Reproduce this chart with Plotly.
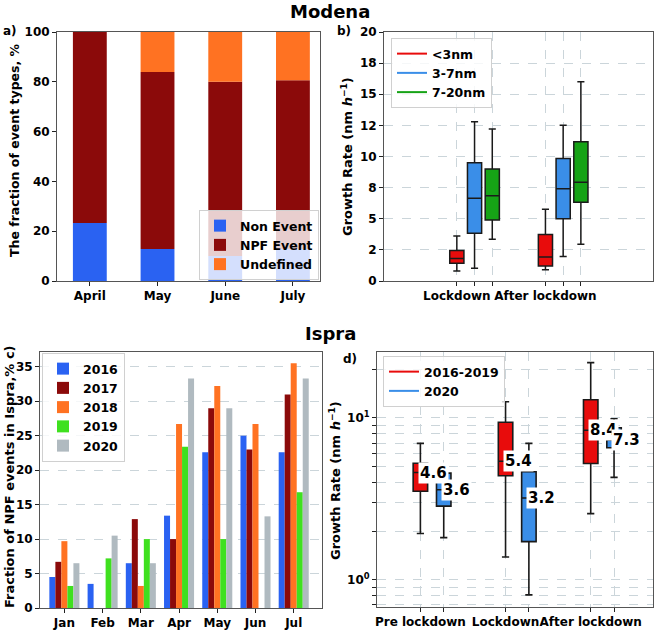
import numpy as np
import plotly.graph_objects as go

W, H = 661, 630

# ---------------- data ----------------
# Panel a (Modena, event type fractions, %)
months_a = ["April", "May", "June", "July"]
non_event = [23.3, 12.9, 10.0, 12.9]
npf_event = [76.7, 71.0, 70.0, 67.7]
undefined = [0.0, 16.1, 20.0, 19.4]

# Panel b (Modena growth rates, box stats per size class)
b_groups = ["Lockdown", "After lockdown"]
b_series = ["<3nm", "3-7nm", "7-20nm"]
b_lower = [[0.80, 0.91], [1.02, 1.96], [3.35, 2.95]]
b_q1 = [[1.42, 1.20], [3.83, 4.99], [4.90, 6.33]]
b_median = [[1.80, 1.93], [6.65, 7.40], [6.84, 7.94]]
b_q3 = [[2.44, 3.73], [9.49, 9.84], [9.00, 11.18]]
b_upper = [[3.62, 5.76], [12.79, 12.52], [12.20, 16.00]]
b_yticks = [0, 2.5, 5, 7.5, 10, 12.5, 15, 17.5, 20]
b_yticktext = ["0", "2", "5", "8", "10", "12", "15", "18", "20"]

# Panel c (Ispra, fraction of NPF events, %)
months_c = ["Jan", "Feb", "Mar", "Apr", "May", "Jun", "Jul"]
years_c = ["2016", "2017", "2018", "2019", "2020"]
frac_2016 = [4.5, 3.5, 6.5, 13.4, 22.6, 25.0, 22.6]
frac_2017 = [6.7, 0.0, 12.9, 10.0, 29.0, 23.0, 31.0]
frac_2018 = [9.7, 0.0, 3.2, 26.7, 32.2, 26.7, 35.5]
frac_2019 = [3.2, 7.2, 10.0, 23.4, 10.0, 0.0, 16.8]
frac_2020 = [6.5, 10.5, 6.5, 33.3, 29.0, 13.3, 33.3]

# Panel d (Ispra growth rates)
d_groups = ["Pre lockdown", "Lockdown", "After lockdown"]
d_series = ["2016-2019", "2020"]
d_lower = [[1.93, 1.38, 2.56], [1.82, 0.805, 4.29]]
d_q1 = [[3.52, 4.39, 5.23], [2.85, 1.72, 6.55]]
d_median = [[4.6, 5.4, 8.4], [3.6, 3.2, 7.3]]
d_q3 = [[5.25, 9.40, 12.95], [4.56, 4.65, 8.70]]
d_upper = [[6.96, 12.6, 22.0], [4.60, 6.96, 9.90]]
d_median_labels = [["4.6", "5.4", "8.4"], ["3.6", "3.2", "7.3"]]
d_major_yticks = [1, 10]
d_major_yticktext = ["10<sup>0</sup>", "10<sup>1</sup>"]
d_minor_yticks = [0.7, 0.8, 0.9, 2, 3, 4, 5, 6, 7, 8, 9, 20]

# ---------------- styles ----------------
FONT = "DejaVu Sans"
c_blue = "#2A62F2"
c_dred = "#8B0A0A"
c_orange = "#FF7222"
c_green_c = "#3FE01F"
c_grey = "#B0BAC0"
gr_colors = ["#E80C0C", "#3A8EE8", "#16A316"]
d_colors = ["#E80C0C", "#3A8EE8"]
EDGE = "#1a1a1a"
GRID = "#CBD5DA"
SPINE = "#555555"


def px_x(x):
    return x / W


def px_y(y):
    return 1 - y / H


fig = go.Figure()

# ---- panel a: stacked bars (manual bases, shared offsetgroup)
base_npf = non_event
base_und = [a + b for a, b in zip(non_event, npf_event)]
for name, vals, base, col in [
    ("Non Event", non_event, None, c_blue),
    ("NPF Event", npf_event, base_npf, c_dred),
    ("Undefined", undefined, base_und, c_orange),
]:
    fig.add_trace(go.Bar(x=months_a, y=vals, base=base, name=name, marker=dict(color=col, line=dict(width=0)),
                         width=0.5, offset=-0.25, offsetgroup="a", xaxis="x", yaxis="y", legend="legend"))

# ---- panel b: boxes
for i, s in enumerate(b_series):
    pos = [g * 5 + i for g in range(len(b_groups))]
    fig.add_trace(go.Box(x=pos, q1=b_q1[i], median=b_median[i], q3=b_q3[i], lowerfence=b_lower[i],
                         upperfence=b_upper[i], width=0.8, whiskerwidth=0.5, fillcolor=gr_colors[i],
                         line=dict(color=EDGE, width=1.5), boxpoints=False, showlegend=False,
                         xaxis="x2", yaxis="y2", hoverinfo="skip"))
    fig.add_trace(go.Scatter(x=[None], y=[None], mode="lines", name=s, line=dict(color=gr_colors[i], width=2),
                             xaxis="x2", yaxis="y2", legend="legend2"))

# ---- panel c: grouped bars
c_cols = [c_blue, c_dred, c_orange, c_green_c, c_grey]
for yr, vals, col in zip(years_c, [frac_2016, frac_2017, frac_2018, frac_2019, frac_2020], c_cols):
    fig.add_trace(go.Bar(x=months_c, y=vals, name=yr, marker=dict(color=col, line=dict(width=0)),
                         xaxis="x3", yaxis="y3", legend="legend3"))

# ---- panel d: boxes on log axis
D_SP = 3.65
annots = []
for i, s in enumerate(d_series):
    pos = [g * D_SP + i for g in range(len(d_groups))]
    fig.add_trace(go.Box(x=pos, q1=d_q1[i], median=d_median[i], q3=d_q3[i], lowerfence=d_lower[i],
                         upperfence=d_upper[i], width=0.62, whiskerwidth=0.5, fillcolor=d_colors[i],
                         line=dict(color=EDGE, width=1.6), boxpoints=False, showlegend=False,
                         xaxis="x4", yaxis="y4", hoverinfo="skip"))
    fig.add_trace(go.Scatter(x=[None], y=[None], mode="lines", name=s, line=dict(color=d_colors[i], width=2),
                             xaxis="x4", yaxis="y4", legend="legend4"))
    for g in range(len(d_groups)):
        annots.append(dict(x=pos[g] - 0.12, y=float(np.log10(d_median[i][g])), xref="x4", yref="y4",
                           text=d_median_labels[i][g], showarrow=False, xanchor="left", yanchor="middle",
                           bgcolor="white", borderpad=1,
                           font=dict(family=FONT, size=15, color="black", weight="bold")))

# ---------------- layout ----------------
tickfont = dict(family=FONT, size=12, color="black", weight="bold")
common = dict(showline=True, mirror=True, linecolor=SPINE, linewidth=1, ticks="outside", ticklen=4,
              tickcolor="#222", tickfont=tickfont, zeroline=False, tickangle=0, automargin=False)
gridstyle = dict(showgrid=True, gridcolor=GRID, griddash="dash", gridwidth=1)

# label ticks at the first box of each group; other box positions as minor ticks with grid
b_major = [g * 5 for g in range(len(b_groups))]
b_minor = [g * 5 + i for g in range(len(b_groups)) for i in range(1, len(b_series))]
d_major = [g * D_SP for g in range(len(d_groups))]
d_minor = [g * D_SP + i for g in range(len(d_groups)) for i in range(1, len(d_series))]
minor_style = dict(ticks="outside", ticklen=4, tickcolor="#222", showgrid=True, gridcolor=GRID,
                   griddash="dash", gridwidth=1)

legfont = dict(family=FONT, size=12.5, color="black", weight="bold")
legstyle = dict(bgcolor="rgba(255,255,255,0.8)", bordercolor="#D0D0D0", borderwidth=1, font=legfont)

fig.update_layout(
    width=W, height=H, margin=dict(l=0, r=0, t=0, b=0, autoexpand=False),
    paper_bgcolor="white", plot_bgcolor="white",
    barmode="group", bargap=0.214, bargroupgap=0,
    xaxis=dict(domain=[px_x(57), px_x(320)], anchor="y", range=[-0.485, 3.4], **common),
    yaxis=dict(domain=[px_y(281), px_y(32)], anchor="x", range=[0, 100], tickvals=[0, 20, 40, 60, 80, 100],
               showgrid=False, **common),
    xaxis2=dict(domain=[px_x(384), px_x(653)], anchor="y2", range=[-4.11, 11.07], tickvals=b_major,
                ticktext=b_groups, minor=dict(tickvals=b_minor, **minor_style), **gridstyle, **common),
    yaxis2=dict(domain=[px_y(281), px_y(32)], anchor="x2", range=[0, 20], tickvals=b_yticks,
                ticktext=b_yticktext, **gridstyle, **common),
    xaxis3=dict(domain=[px_x(40), px_x(322)], anchor="y3", range=[-0.638, 6.74], showgrid=False, **common),
    yaxis3=dict(domain=[px_y(608), px_y(352)], anchor="x3", range=[0, 37.15], tickvals=[0, 5, 10, 15, 20, 25, 30, 35],
                **gridstyle, **common),
    xaxis4=dict(domain=[px_x(377), px_x(653)], anchor="y4", range=[-1.86, 9.97], tickvals=d_major,
                ticktext=d_groups, minor=dict(tickvals=d_minor, **minor_style), **gridstyle, **common),
    yaxis4=dict(domain=[px_y(607), px_y(352)], anchor="x4", type="log", range=[-0.169, 1.408],
                tickvals=d_major_yticks, ticktext=d_major_yticktext,
                minor=dict(tickvals=d_minor_yticks, **minor_style), **gridstyle, **common),
    legend=dict(x=px_x(319), y=px_y(280), xanchor="right", yanchor="bottom", **legstyle),
    legend2=dict(x=px_x(391), y=px_y(38), xanchor="left", yanchor="top", **legstyle),
    legend3=dict(x=px_x(42), y=px_y(353), xanchor="left", yanchor="top", **legstyle),
    legend4=dict(x=px_x(383), y=px_y(356), xanchor="left", yanchor="top", **legstyle),
    showlegend=True,
)

bold = dict(family=FONT, color="black", weight="bold")
annots += [
    dict(x=px_x(330), y=px_y(11), text="Modena", font=dict(size=18, **bold)),
    dict(x=px_x(330), y=px_y(333), text="Ispra", font=dict(size=18, **bold)),
    dict(x=px_x(10), y=px_y(31), text="a)", font=dict(size=12, **bold)),
    dict(x=px_x(344), y=px_y(31), text="b)", font=dict(size=12, **bold)),
    dict(x=px_x(350), y=px_y(359), text="d)", font=dict(size=12, **bold)),
    dict(x=px_x(14), y=px_y(150), text="The fraction of event types, %", textangle=-90,
         font=dict(size=12.5, **bold)),
    dict(x=px_x(347), y=px_y(157), text="Growth Rate (nm <i>h</i><sup>−1</sup>)", textangle=-90,
         font=dict(size=13, **bold)),
    dict(x=px_x(9), y=px_y(477), text="Fraction of NPF events in Ispra,% c)", textangle=-90,
         font=dict(size=13, **bold)),
    dict(x=px_x(335), y=px_y(480), text="Growth Rate (nm <i>h</i><sup>−1</sup>)", textangle=-90,
         font=dict(size=13, **bold)),
]
for a in annots[-9:]:
    a.update(xref="paper", yref="paper", showarrow=False, xanchor="center", yanchor="middle")
fig.update_layout(annotations=annots)

fig.write_html("out.html", config={"displayModeBar": False},
               post_script="document.body.style.margin='0px'; document.body.style.overflow='hidden';")
